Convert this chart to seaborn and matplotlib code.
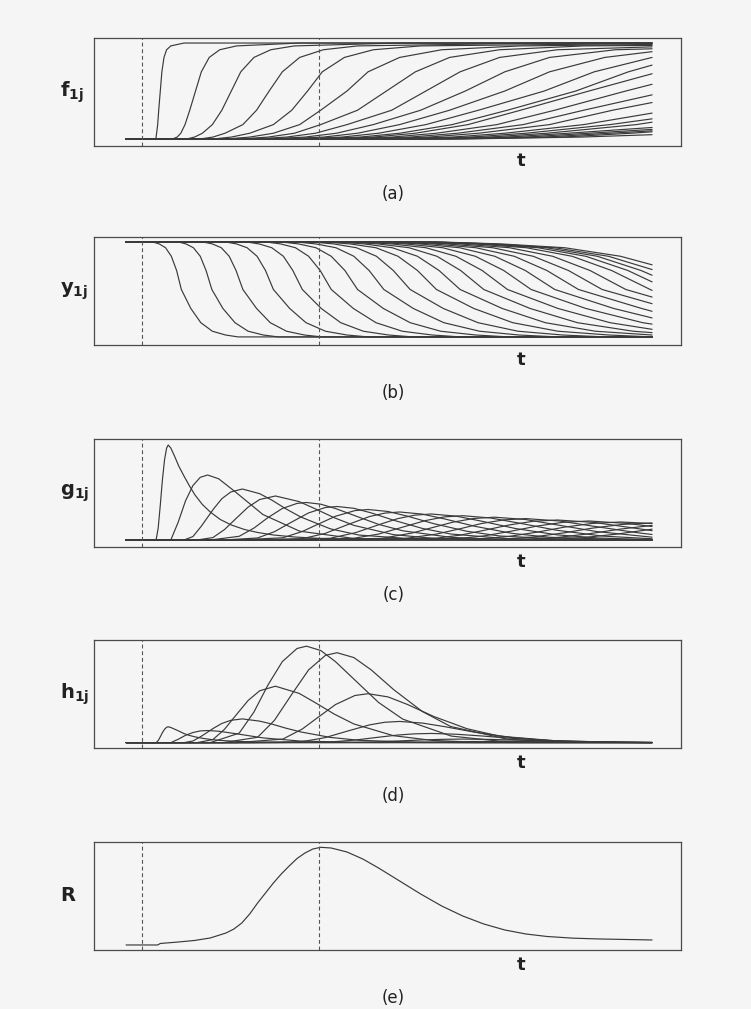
import matplotlib
matplotlib.use("Agg")
import matplotlib.pyplot as plt
import seaborn as sns
import pandas as pd

# time axis: 0 = start of the curves, 1 = right end of the curves
DASH_T = [0.031, 0.367]
XLIM = (-0.061, 1.055)

# (a) f_1j : time at which each curve reaches the levels below, plus its value at t=1
A_LEVELS = [0, 0.02, 0.06, 0.15, 0.3, 0.5, 0.7, 0.85, 0.93, 0.97, 1.0]
A_TIMES = [
    [0.056, 0.057, 0.058, 0.06, 0.062, 0.065, 0.068, 0.072, 0.077, 0.085, 0.11],
    [0.088, 0.097, 0.104, 0.112, 0.121, 0.132, 0.143, 0.158, 0.178, 0.21, 0.33],
    [0.115, 0.13, 0.145, 0.164, 0.182, 0.2, 0.218, 0.243, 0.275, 0.32, 0.52],
    [0.14, 0.165, 0.188, 0.222, 0.248, 0.272, 0.297, 0.33, 0.375, 0.44, 0.8],
    [0.165, 0.2, 0.235, 0.28, 0.315, 0.345, 0.373, 0.415, 0.47, 0.56],
    [0.19, 0.235, 0.28, 0.33, 0.37, 0.42, 0.46, 0.52, 0.6, 0.75],
    [0.215, 0.27, 0.32, 0.37, 0.44, 0.495, 0.55, 0.615, 0.71, 0.87],
    [0.24, 0.305, 0.36, 0.42, 0.505, 0.57, 0.635, 0.71, 0.82],
    [0.265, 0.34, 0.4, 0.47, 0.56, 0.645, 0.72, 0.805, 0.93],
    [0.29, 0.375, 0.44, 0.52, 0.615, 0.72, 0.805, 0.91],
    [0.315, 0.41, 0.48, 0.57, 0.67, 0.795, 0.89, 1.0],
    [0.34, 0.445, 0.52, 0.62, 0.725, 0.855, 0.955],
    [0.36, 0.47, 0.55, 0.65, 0.75, 0.88],
    [0.385, 0.505, 0.59, 0.705, 0.815, 0.95],
    [0.41, 0.54, 0.63, 0.755, 0.87],
    [0.435, 0.575, 0.67, 0.805, 0.925],
    [0.465, 0.62, 0.72, 0.87],
    [0.49, 0.655, 0.76, 0.92],
    [0.515, 0.69, 0.8, 0.97],
    [0.54, 0.725, 0.84],
    [0.565, 0.76, 0.88],
    [0.59, 0.795, 0.92],
    [0.615, 0.83, 0.96],
    [0.64, 0.865],
]
A_END = [1, 1, 1, 1, 0.995, 0.985, 0.975, 0.96, 0.94, 0.91, 0.85, 0.77, 0.68, 0.57,
         0.46, 0.38, 0.27, 0.21, 0.175, 0.12, 0.10, 0.085, 0.075, 0.045]

# (b) y_1j : falling curves, same idea
B_LEVELS = [1, 0.98, 0.94, 0.85, 0.7, 0.5, 0.3, 0.15, 0.06, 0.02, 0]
B_TIMES = [
    [0.051, 0.063, 0.075, 0.086, 0.096, 0.105, 0.123, 0.142, 0.164, 0.189, 0.213],
    [0.1, 0.114, 0.128, 0.141, 0.152, 0.163, 0.184, 0.207, 0.232, 0.261, 0.289],
    [0.147, 0.164, 0.181, 0.196, 0.209, 0.222, 0.248, 0.274, 0.305, 0.339, 0.372],
    [0.19, 0.21, 0.23, 0.249, 0.265, 0.28, 0.311, 0.342, 0.379, 0.42, 0.46],
    [0.23, 0.253, 0.277, 0.299, 0.317, 0.335, 0.371, 0.408, 0.451, 0.499, 0.545],
    [0.267, 0.294, 0.322, 0.347, 0.369, 0.39, 0.432, 0.475, 0.525, 0.582, 0.636],
    [0.296, 0.328, 0.361, 0.39, 0.416, 0.44, 0.489, 0.54, 0.598, 0.665, 0.728],
    [0.325, 0.361, 0.399, 0.433, 0.462, 0.49, 0.546, 0.604, 0.672, 0.747, 0.82],
    [0.354, 0.395, 0.438, 0.476, 0.508, 0.54, 0.603, 0.669, 0.745, 0.83, 0.912],
    [0.38, 0.426, 0.475, 0.517, 0.554, 0.59, 0.661, 0.735, 0.821, 0.918, 1.0],
    [0.401, 0.453, 0.506, 0.554, 0.595, 0.635, 0.715, 0.797, 0.892, 1.0],
    [0.422, 0.479, 0.538, 0.591, 0.636, 0.68, 0.768, 0.858, 0.964],
    [0.443, 0.505, 0.57, 0.627, 0.677, 0.725, 0.821, 0.92],
    [0.464, 0.531, 0.602, 0.664, 0.718, 0.77, 0.874, 0.982],
    [0.485, 0.558, 0.634, 0.701, 0.759, 0.815, 0.927],
    [0.506, 0.584, 0.665, 0.738, 0.8, 0.86, 0.98],
    [0.527, 0.61, 0.697, 0.774, 0.841, 0.905],
    [0.548, 0.636, 0.729, 0.811, 0.882, 0.95],
    [0.569, 0.663, 0.761, 0.848, 0.923],
    [0.58, 0.679, 0.783, 0.874, 0.954],
    [0.585, 0.69, 0.799, 0.896, 0.979],
    [0.59, 0.7, 0.815, 0.917],
    [0.6, 0.714, 0.834, 0.94],
]
B_END = [0, 0, 0, 0, 0, 0, 0, 0, 0, 0, 0.02, 0.045, 0.08, 0.135, 0.2, 0.27,
         0.35, 0.42, 0.49, 0.58, 0.65, 0.71, 0.76]

# (c) g_1j : pulses, knots
G_T = [
    [0, 0.057, 0.061, 0.065, 0.069, 0.073, 0.077, 0.08, 0.085, 0.092, 0.1, 0.11, 0.12,
     0.131, 0.145, 0.16, 0.179, 0.2, 0.225, 0.25, 0.28, 0.32, 0.37, 0.45, 0.56, 1.0],
    [0, 0.085, 0.099, 0.113, 0.127, 0.141, 0.155, 0.176, 0.208, 0.26, 0.33, 0.435, 0.575, 1.0],
    [0, 0.11, 0.127, 0.143, 0.166, 0.182, 0.199, 0.221, 0.254, 0.277, 0.304, 0.332, 0.388,
     0.443, 0.554, 0.665, 1.0],
    [0, 0.135, 0.165, 0.187, 0.21, 0.232, 0.254, 0.284, 0.329, 0.359, 0.396, 0.433, 0.508,
     0.582, 0.657, 0.731, 1.0],
    [0, 0.16, 0.215, 0.243, 0.27, 0.297, 0.325, 0.343, 0.37, 0.398, 0.435, 0.48, 0.526,
     0.618, 0.709, 0.801, 1.0],
    [0, 0.185, 0.25, 0.282, 0.315, 0.347, 0.379, 0.401, 0.433, 0.466, 0.509, 0.563, 0.617,
     0.725, 0.833, 1.0],
    [0, 0.21, 0.298, 0.335, 0.36, 0.398, 0.435, 0.46, 0.498, 0.535, 0.585, 0.648, 0.71,
     0.835, 0.96, 1.0],
    [0, 0.235, 0.335, 0.378, 0.42, 0.463, 0.492, 0.52, 0.563, 0.606, 0.663, 0.734, 0.805,
     0.948, 1.0],
    [0, 0.26, 0.388, 0.436, 0.484, 0.516, 0.548, 0.58, 0.628, 0.676, 0.74, 0.82, 0.9, 1.0],
    [0, 0.285, 0.427, 0.48, 0.534, 0.569, 0.605, 0.64, 0.693, 0.747, 0.818, 0.906, 1.0],
    [0, 0.31, 0.486, 0.544, 0.583, 0.622, 0.661, 0.7, 0.759, 0.817, 0.895, 1.0],
    [0, 0.335, 0.526, 0.59, 0.633, 0.675, 0.718, 0.76, 0.824, 0.888, 0.973, 1.0],
    [0, 0.36, 0.59, 0.636, 0.682, 0.728, 0.774, 0.82, 0.889, 0.958, 1.0],
    [0, 0.385, 0.633, 0.682, 0.732, 0.781, 0.831, 0.88, 0.954, 1.0],
    [0, 0.41, 0.675, 0.728, 0.781, 0.834, 0.887, 0.94, 1.0],
    [0, 0.435, 0.718, 0.774, 0.831, 0.887, 0.944, 1.0],
    [0, 0.46, 0.76, 0.82, 0.88, 0.94, 1.0],
    [0, 0.485, 0.803, 0.866, 0.93, 1.0],
]
G_Y = [
    [0, 0, 0.12, 0.35, 0.6, 0.8, 0.92, 0.95, 0.92, 0.84, 0.74, 0.64, 0.545, 0.45, 0.355,
     0.28, 0.205, 0.15, 0.105, 0.075, 0.05, 0.03, 0.015, 0.005, 0, 0],
    [0, 0, 0.178, 0.392, 0.544, 0.627, 0.65, 0.612, 0.48, 0.255, 0.088, 0.014, 0.001, 0],
    [0, 0, 0.034, 0.138, 0.309, 0.413, 0.48, 0.51, 0.463, 0.399, 0.311, 0.23, 0.112,
     0.049, 0.008, 0.001, 0],
    [0, 0, 0.024, 0.104, 0.22, 0.329, 0.405, 0.44, 0.384, 0.313, 0.222, 0.146, 0.054,
     0.017, 0.005, 0.001, 0],
    [0, 0, 0.037, 0.119, 0.225, 0.315, 0.366, 0.375, 0.358, 0.315, 0.243, 0.156, 0.092,
     0.026, 0.006, 0.001, 0],
    [0, 0, 0.02, 0.083, 0.18, 0.271, 0.325, 0.335, 0.317, 0.271, 0.197, 0.116, 0.06,
     0.013, 0.002, 0],
    [0, 0, 0.022, 0.085, 0.146, 0.237, 0.294, 0.305, 0.285, 0.238, 0.163, 0.087, 0.04,
     0.007, 0.001, 0],
    [0, 0, 0.013, 0.065, 0.151, 0.235, 0.269, 0.28, 0.259, 0.21, 0.137, 0.066, 0.027,
     0.003, 0.001],
    [0, 0, 0.017, 0.073, 0.159, 0.213, 0.248, 0.26, 0.238, 0.188, 0.115, 0.051, 0.019, 0.004],
    [0, 0, 0.012, 0.059, 0.141, 0.194, 0.231, 0.243, 0.22, 0.169, 0.098, 0.039, 0.012],
    [0, 0, 0.016, 0.07, 0.125, 0.179, 0.215, 0.228, 0.205, 0.153, 0.084, 0.028],
    [0, 0, 0.012, 0.059, 0.11, 0.164, 0.201, 0.214, 0.19, 0.138, 0.072, 0.055],
    [0, 0, 0.018, 0.049, 0.098, 0.15, 0.187, 0.2, 0.176, 0.125, 0.093],
    [0, 0, 0.014, 0.042, 0.088, 0.139, 0.177, 0.19, 0.165, 0.135],
    [0, 0, 0.011, 0.036, 0.078, 0.129, 0.166, 0.18, 0.165],
    [0, 0, 0.008, 0.03, 0.07, 0.119, 0.156, 0.17],
    [0, 0, 0.007, 0.025, 0.062, 0.109, 0.146],
    [0, 0, 0.005, 0.022, 0.057, 0.108],
]

# (d) h_1j : read at the same knots as the first eleven g_1j curves
H_Y = [
    [0, 0, 0.02, 0.058, 0.099, 0.132, 0.152, 0.157, 0.15, 0.134, 0.115, 0.09, 0.072,
     0.057, 0.043, 0.032, 0.022, 0.015, 0.01, 0.006, 0.004, 0.002, 0.001, 0, 0, 0],
    [0, 0, 0.033, 0.0725, 0.1, 0.116, 0.12, 0.113, 0.089, 0.047, 0.016, 0.0026, 0, 0],
    [0, 0, 0.016, 0.063, 0.142, 0.19, 0.221, 0.235, 0.213, 0.184, 0.143, 0.106, 0.052,
     0.023, 0.004, 0, 0],
    [0, 0, 0.03, 0.132, 0.279, 0.418, 0.514, 0.559, 0.488, 0.398, 0.282, 0.185, 0.069,
     0.022, 0.006, 0.001, 0],
    [0, 0, 0.094, 0.303, 0.574, 0.803, 0.933, 0.956, 0.913, 0.803, 0.62, 0.398, 0.233,
     0.065, 0.015, 0.003, 0],
    [0, 0, 0.053, 0.221, 0.479, 0.721, 0.865, 0.891, 0.843, 0.721, 0.524, 0.309, 0.16,
     0.034, 0.005, 0],
    [0, 0, 0.035, 0.135, 0.232, 0.377, 0.467, 0.485, 0.453, 0.378, 0.259, 0.138, 0.064,
     0.01, 0.002, 0],
    [0, 0, 0.01, 0.049, 0.113, 0.176, 0.202, 0.21, 0.194, 0.158, 0.103, 0.05, 0.02,
     0.002, 0.001],
    [0, 0, 0.006, 0.026, 0.056, 0.075, 0.087, 0.091, 0.083, 0.066, 0.04, 0.018, 0.007, 0.002],
    [0, 0, 0.002, 0.008, 0.02, 0.028, 0.033, 0.035, 0.032, 0.024, 0.014, 0.006, 0.002],
    [0, 0, 0.001, 0.004, 0.006, 0.009, 0.011, 0.011, 0.01, 0.008, 0.004, 0.001],
]

# (e) R
R_T = [0, 0.06, 0.065, 0.1, 0.13, 0.16, 0.19, 0.205, 0.22, 0.235, 0.25, 0.265, 0.28,
       0.295, 0.31, 0.325, 0.34, 0.355, 0.37, 0.39, 0.42, 0.45, 0.48, 0.52, 0.56, 0.6,
       0.64, 0.68, 0.72, 0.76, 0.8, 0.85, 0.9, 0.95, 1.0]
R_V = [0, 0, 0.015, 0.03, 0.045, 0.07, 0.12, 0.16, 0.22, 0.31, 0.42, 0.52, 0.62, 0.71,
       0.79, 0.865, 0.92, 0.96, 0.977, 0.97, 0.93, 0.86, 0.77, 0.64, 0.51, 0.39, 0.29,
       0.21, 0.15, 0.11, 0.085, 0.068, 0.06, 0.055, 0.05]


def level_frame(times, levels, ends, start):
    rows = []
    for j, (ts, end) in enumerate(zip(times, ends)):
        pts = [(0.0, start)] + list(zip(ts, levels))
        if pts[-1][0] < 1.0:
            pts.append((1.0, end))
        rows += [(j, t, v) for t, v in pts]
    return pd.DataFrame(rows, columns=["curve", "t", "value"])


def knot_frame(ts_list, ys_list):
    rows = [(j, t, v) for j, (ts, ys) in enumerate(zip(ts_list, ys_list))
            for t, v in zip(ts, ys)]
    return pd.DataFrame(rows, columns=["curve", "t", "value"])


panels = [
    (level_frame(A_TIMES, A_LEVELS, A_END, 0.0), r"$\mathbf{f_{1j}}$", (-0.073, 1.052), "(a)"),
    (level_frame(B_TIMES, B_LEVELS, B_END, 1.0), r"$\mathbf{y_{1j}}$", (-0.085, 1.053), "(b)"),
    (knot_frame(G_T, G_Y), r"$\mathbf{g_{1j}}$", (-0.07, 1.01), "(c)"),
    (knot_frame(G_T[:len(H_Y)], H_Y), r"$\mathbf{h_{1j}}$", (-0.053, 1.017), "(d)"),
    (pd.DataFrame({"curve": 0, "t": R_T, "value": R_V}), r"$\mathbf{R}$", (-0.05, 1.03), "(e)"),
]

sns.set_theme(style="white")
plt.rcParams["font.family"] = ["DejaVu Sans"]
plt.rcParams["mathtext.fontset"] = "dejavusans"

BG = "#f5f5f5"
LINE = "#3a3a3a"
fig = plt.figure(figsize=(7.51, 10.09), dpi=100, facecolor=BG)

bottoms = [0.8553, 0.6581, 0.4579, 0.2587, 0.0585]
for (df, label, ylim, letter), b in zip(panels, bottoms):
    ax = fig.add_axes([0.1252, b, 0.7816, 0.107], facecolor=BG)
    sns.lineplot(data=df, x="t", y="value", units="curve", estimator=None, sort=False,
                 color=LINE, lw=0.85, ax=ax)
    for x in DASH_T:
        ax.axvline(x, color="#555555", lw=0.8, ls=(0, (3.5, 2.5)))
    ax.set_xlim(XLIM)
    ax.set_ylim(ylim)
    ax.set_xticks([])
    ax.set_yticks([])
    ax.set_xlabel("")
    ax.set_ylabel("")
    for s in ax.spines.values():
        s.set_visible(True)
        s.set_color("#4a4a4a")
        s.set_linewidth(0.9)
    ax.text(-0.058, 0.5, label, transform=ax.transAxes, ha="left", va="center",
            fontsize=14, color="#222222")
    ax.text(0.728, -0.14, "t", transform=ax.transAxes, ha="center", va="center",
            fontsize=13, fontweight="bold", color="#222222")
    ax.text(0.51, -0.445, letter, transform=ax.transAxes, ha="center", va="center",
            fontsize=12, color="#222222")

fig.savefig("out.png", dpi=100, facecolor=BG)
